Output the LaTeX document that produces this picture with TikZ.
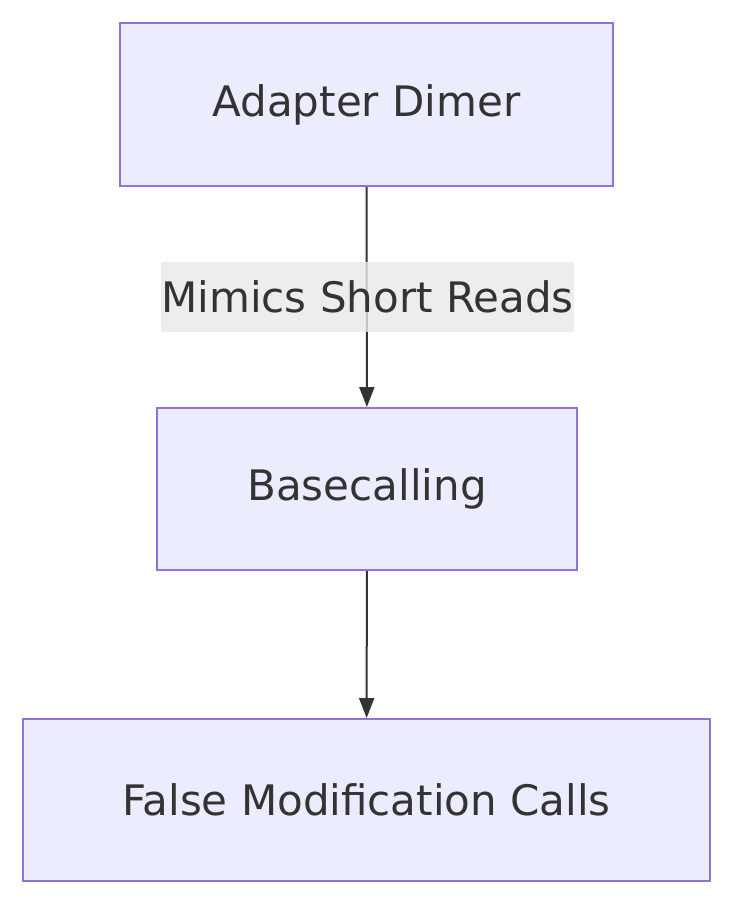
\documentclass[tikz,border=0pt]{standalone}
\usepackage{fontspec}
\setmainfont{DejaVu Sans}
\usetikzlibrary{arrows.meta}
\definecolor{nodefill}{HTML}{ECECFF}
\definecolor{nodeline}{HTML}{9370DB}
\definecolor{txt}{HTML}{333333}
\definecolor{lblfill}{HTML}{E8E8E8}
\begin{document}
\begin{tikzpicture}[x=1pt,y=-1pt,
  box/.style={draw=nodeline,fill=nodefill,line width=2pt,text=txt,font=\fontsize{42}{46}\selectfont,inner sep=0pt},
  conn/.style={draw=txt,line width=2pt,-{Triangle[length=20pt,width=15pt]}},
  lbl/.style={fill=lblfill,fill opacity=0.8,text opacity=1,text=txt,font=\fontsize{42}{46}\selectfont,inner sep=0pt}]
\useasboundingbox (0,0) rectangle (734,906);
\node[box,minimum width=493pt,minimum height=163pt] (a) at (366.5,104.5) {Adapter Dimer};
\node[box,minimum width=420pt,minimum height=162pt] (b) at (367,489) {Basecalling};
\node[box,minimum width=687pt,minimum height=162pt] (c) at (366.5,800) {False Modification Calls};
\draw[conn] (a) -- (b);
\node[lbl,minimum width=411pt,minimum height=70pt] (l) at (367.5,297) {Mimics Short Reads};
\draw[conn] (b) -- (c);
\end{tikzpicture}
\end{document}
